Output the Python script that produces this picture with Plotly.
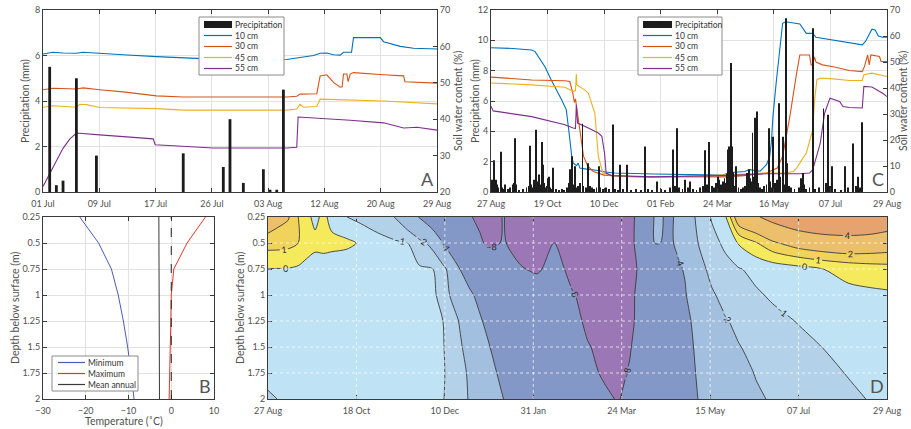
import numpy as np
import plotly.graph_objects as go

W, H = 911, 429
FONT = "Lato"
TICK = "#505050"
AXLINE = "#3a3a3a"
GRID = "#e2e2e2"

# ---------------- Panel A : 01 Jul - 29 Aug ----------------
a_tick_labels = ["01 Jul", "09 Jul", "17 Jul", "26 Jul", "03 Aug", "12 Aug", "20 Aug", "29 Aug"]
a_span = 59
a_precip_day = [1, 2, 3, 5, 8, 21, 27, 28, 30, 33, 34, 35, 36]
a_precip_mm = [5.5, 0.3, 0.5, 5.0, 1.6, 1.7, 1.1, 3.2, 0.4, 1.0, 0.1, 0.1, 4.5]

a10_day = [0, 1.5, 3, 5, 6, 8, 12, 17, 22, 25.5, 30, 34, 36.5, 38.5, 40.5, 41.5, 42.5, 43.5, 44.5, 45, 46.2, 46.5, 50.5, 51, 53.5, 55.5, 59]
a10_val = [57.9, 58.4, 58.2, 58.1, 58.4, 58.1, 57.7, 57.2, 56.8, 56.5, 56.5, 56.3, 56.4, 57.0, 57.5, 58.1, 58.2, 57.7, 57.6, 58.4, 58.4, 62.4, 62.4, 61.3, 60.0, 59.5, 59.3]
a30_day = [0, 1.5, 5, 6, 8.5, 12, 17, 21, 36.5, 38, 38.5, 41, 41.5, 42.5, 43.5, 44.5, 44.8, 45, 45.5, 45.7, 46, 46.5, 51, 54, 54.2, 59]
a30_val = [48.1, 48.5, 48.3, 48.6, 48.1, 47.5, 46.4, 46.1, 46.1, 46.3, 46.9, 47.0, 51.9, 52.2, 50.1, 48.8, 48.9, 52.4, 52.4, 50.3, 52.4, 52.8, 52.2, 51.9, 50.3, 49.9]
a45_day = [0, 1.5, 5, 5.5, 6.5, 8.5, 17, 21, 36.5, 38, 38.5, 39, 41, 41.5, 51, 59]
a45_val = [43.3, 43.7, 43.3, 44.1, 44.0, 43.2, 42.9, 42.5, 42.5, 42.8, 44.1, 43.3, 43.5, 45.5, 45.0, 44.2]
a55_day = [0, 1, 2, 3, 4, 5, 8.5, 16.5, 16.8, 21, 25.5, 36.5, 38, 38.2, 41, 43.5, 46, 51, 54, 56, 59]
a55_val = [21.5, 25, 28.5, 32, 34.5, 36.2, 35.7, 34.6, 33.0, 32.5, 32.1, 32.1, 32.3, 40.6, 40.3, 39.9, 39.7, 39.0, 37.6, 37.8, 37.0]

# ---------------- Panel C : 27 Aug - 29 Aug (next year) ----------------
c_tick_labels = ["27 Aug", "19 Oct", "10 Dec", "01 Feb", "24 Mar", "16 May", "07 Jul", "29 Aug"]
c_span = 368
c_precip_day = [0, 1, 2, 3, 4, 5, 6, 7, 9, 10, 12, 13, 16, 18, 20, 21, 22, 23, 26, 30, 33, 35, 36, 37, 39, 40,
                41, 42, 43, 44, 45, 46, 47, 48, 49, 50, 52, 53, 54, 55, 57, 58, 60, 63, 66, 68, 71, 72, 73, 74,
                75, 76, 77, 78, 79, 81, 83, 85, 86, 88, 90, 92, 94, 96, 98, 100, 101, 104, 107, 110, 113, 115,
                118, 120, 123, 126, 130, 135, 139, 143, 146, 150, 154, 158, 162, 166, 169, 171, 173, 175, 178,
                180, 183, 185, 188, 191, 194, 197, 199, 201, 203, 205, 207, 209, 211, 212, 214, 216, 217, 218,
                219, 220, 221, 222, 223, 224, 225, 226, 228, 230, 232, 234, 236, 238, 239, 240, 241, 242, 243,
                244, 245, 247, 248, 250, 252, 254, 256, 258, 259, 260, 262, 264, 266, 268, 269, 271, 272, 274,
                275, 277, 279, 282, 286, 288, 290, 291, 293, 296, 299, 301, 305, 309, 311, 313, 315, 317, 320,
                325, 329, 332, 336, 339, 341, 343, 345]
c_precip_mm = [0.7, 0.8, 0.7, 2.1, 0.6, 0.8, 0.5, 0.3, 2.65, 0.3, 0.2, 0.5, 0.2, 0.3, 0.5, 0.6, 3.55, 0.5, 0.1, 0.2, 0.3, 0.4, 3.05, 0.5, 0.3, 0.8,
               0.6, 4.1, 0.7, 0.4, 1.15, 0.5, 3.3, 1.8, 0.6, 0.3, 0.4, 0.9, 1.0, 0.3, 0.2, 1.6, 0.2, 0.1, 0.2, 0.1, 0.3, 0.6, 1.5, 0.7,
               2.35, 0.5, 0.4, 1.7, 0.3, 0.4, 0.6, 4.5, 0.4, 0.3, 1.9, 0.4, 0.3, 0.2, 0.3, 1.7, 0.3, 0.2, 0.3, 0.2, 4.45, 0.2,
               0.1, 1.8, 0.2, 1.8, 0.1, 0.2, 0.1, 3.0, 0.2, 0.1, 0.7, 0.2, 0.1, 0.3, 2.8, 0.4, 4.2, 0.3, 0.2,
               0.8, 0.3, 0.7, 0.2, 0.1, 0.3, 0.4, 2.75, 0.5, 3.3, 0.4, 0.3, 0.6, 1.0, 0.8, 0.5, 0.7, 0.9, 0.6,
               1.2, 2.8, 3.0, 0.9, 8.5, 3.0, 1.3, 0.4, 1.7, 0.3, 0.2, 0.3, 0.4, 1.25, 0.6, 1.5, 0.9, 0.7, 3.9,
               1.0, 4.9, 5.3, 0.6, 0.3, 0.2, 0.4, 0.5, 4.2, 0.7, 0.3, 3.65, 0.6, 0.8, 5.85, 1.0, 3.65, 0.5, 11.45,
               1.9, 0.4, 0.3, 0.2, 0.3, 0.9, 1.25, 0.5, 0.2, 0.3, 10.8, 0.2, 0.3, 5.5, 0.6, 5.1, 0.4, 1.7, 0.2,
               0.1, 1.7, 0.3, 3.2, 0.4, 1.0, 0.3, 4.6]

c10_day = [0, 20, 37.8, 41, 50, 56, 65.6, 70, 73.3, 75, 76.4, 79.5, 81, 82.6, 88.8, 99.7, 106, 115, 152, 183, 208, 215,
           223, 236, 240, 245, 250, 256, 259, 260.5, 262, 265, 268, 271, 274, 287, 293, 299, 302, 318, 333, 345,
           348, 354, 357, 360, 364, 368]
c10_val = [55.5, 55.2, 54.6, 54.0, 48.3, 43.1, 35.5, 31.6, 20.1, 13.7, 11.1, 10.2, 11.1, 9.2, 8.8, 8.3, 7.7, 7.3, 6.9, 6.6, 6.3, 6.5,
           7.5, 7.9, 8.6, 8.2, 8.0, 10.5, 13.7, 19.0, 29.0, 41.9, 54.7, 64.9, 65.5, 64.6, 61.0, 61.0, 59.5, 58.5, 57.5, 56.6,
           57.9, 62.6, 62.3, 60.0, 59.5, 59.5]
c30_day = [0, 37.8, 68.7, 73.3, 76, 77.5, 78.5, 80, 83, 86, 90, 95, 105, 130, 220, 235, 256, 266, 271, 277.7, 284, 287,
           296, 297.5, 299, 300.5, 302, 308, 318, 333, 345, 347, 350, 351.5, 353, 361, 362.5, 368]
c30_val = [44.2, 43.1, 42.8, 42.5, 38.0, 34.5, 35.8, 31.0, 22.0, 13.7, 9.9, 7.9, 6.5, 5.9, 5.8, 6.3, 7.3, 9.2, 13.7, 29.0, 45.7, 52.7,
           52.7, 48.9, 48.9, 52.0, 50.0, 48.9, 48.2, 46.7, 46.3, 48.2, 52.7, 48.9, 52.7, 52.1, 50.2, 50.2]
c45_day = [0, 37.8, 68.7, 76.4, 78.5, 79.3, 79.8, 87, 90.4, 96.5, 99.7, 104, 112, 150, 225, 256, 272.6, 281, 284, 293, 299,
           300.5, 302.8, 306, 318, 333, 345, 346.5, 354, 368]
c45_val = [41.9, 41.2, 40.3, 38.7, 38.9, 45.4, 41.2, 39.3, 38.0, 30.3, 13.7, 7.3, 6.3, 5.6, 6.7, 7.3, 7.3, 7.9, 9.2, 15.0, 23.9,
           34.2, 43.1, 43.8, 43.5, 42.9, 42.9, 45.1, 45.7, 44.4]
c55_day = [0, 2, 37.8, 68.7, 76.4, 78.5, 79.3, 80.5, 90.4, 99.7, 103, 105.5, 107, 112, 150, 225, 256, 287, 296, 299, 306,
           310, 315, 324, 327, 333, 345, 346.5, 354, 364, 368]
c55_val = [33.0, 31.2, 29.0, 25.9, 24.6, 24.4, 33.5, 26.5, 24.6, 22.7, 21.4, 15.0, 7.3, 6.3, 5.8, 6.4, 7.0, 7.0, 7.3, 8.6, 18.8,
           30.3, 36.1, 34.8, 32.9, 32.5, 32.3, 40.6, 40.4, 38.0, 36.7]

# ---------------- Panel B : temperature envelope ----------------
b_depth = [0.25, 0.5, 0.75, 1.0, 1.25, 1.5, 1.75, 2.0]
b_min = [-21.4, -17.0, -14.0, -12.4, -11.2, -10.2, -9.4, -8.7]
b_max = [8.0, 3.7, 0.6, 0.0, -0.1, -0.2, -0.35, -0.5]
b_mean = [-2.9, -2.88, -2.86, -2.84, -2.82, -2.8, -2.78, -2.75]

# ---------------- Panel D : ground temperature (deg C) ----------------
d_tick_labels = ["27 Aug", "18 Oct", "10 Dec", "31 Jan", "24 Mar", "15 May", "07 Jul", "29 Aug"]
d_day = [0, 12, 18, 23, 28, 33, 38, 47, 55, 65, 75, 83, 90, 98, 104, 108, 114, 120, 126, 132, 140, 150,
         160, 170, 180, 190, 200, 208, 215, 222, 230, 240, 248, 256, 264, 272, 280, 290, 300, 315, 330, 345, 358, 368]
d_depth = [0.25, 0.5, 0.75, 1.0, 1.25, 1.5, 1.75, 2.0]
t_025 = [3.0, 2.1, 1.0, 0.3, -0.3, 0.3, -0.4, -1.0, -1.3, -1.6, -2.0, -3.0, -4.1, -5.5, -6.5, -7.0, -7.5, -7.9, -8.3, -8.8, -7.9, -9.5,
         -10.5, -11.0, -11.5, -11.5, -11.0, -10.0, -8.7, -7.0, -3.8, -4.2, -2.8, -1.7, -0.9, -0.1, 3.0, 3.8, 4.6, 5.5, 6.0, 6.0, 6.0, 5.5]
t_050 = [1.4, 1.3, 1.0, 0.6, 0.3, 0.4, 0.3, 0.2, -0.1, -0.6, -0.85, -1.0, -1.6, -2.4, -4.0, -5.0, -6.0, -7.0, -7.8, -8.3, -7.9, -8.5,
         -9.0, -7.9, -9.5, -10.5, -10.0, -9.3, -8.5, -7.2, -3.95, -4.1, -3.4, -1.95, -1.3, -0.8, 0.1, 0.9, 1.8, 2.6, 3.0, 3.2, 3.0, 2.8]
t_075 = [-0.03, -0.05, -0.15, -0.4, -0.55, -0.6, -0.6, -0.65, -0.7, -0.75, -0.8, -0.85, -0.9, -1.0, -1.6, -2.4, -4.0, -5.0, -5.8, -6.5, -7.3, -7.9,
         -8.2, -7.5, -8.3, -9.0, -9.3, -9.3, -8.8, -7.5, -5.5, -4.4, -3.9, -2.5, -1.6, -1.3, -1.05, -0.8, -0.6, -0.35, 0.0, 0.3, 0.5, 0.6]
t_100 = [-0.2, -0.25, -0.3, -0.35, -0.4, -0.45, -0.5, -0.55, -0.6, -0.7, -0.75, -0.8, -0.85, -0.95, -1.1, -2.0, -2.8, -3.7, -4.5, -5.2, -6.0, -6.6,
         -7.1, -7.5, -7.85, -8.4, -8.6, -8.6, -8.3, -7.6, -6.2, -5.0, -4.1, -3.0, -2.15, -1.6, -1.4, -1.1, -0.9, -0.6, -0.4, -0.25, -0.2, -0.15]
t_125 = [-0.4, -0.42, -0.45, -0.48, -0.5, -0.52, -0.55, -0.6, -0.65, -0.7, -0.75, -0.8, -0.85, -0.92, -1.0, -1.3, -2.1, -3.0, -3.8, -4.6, -5.5, -6.3,
         -6.9, -7.4, -7.7, -8.15, -8.4, -8.4, -8.2, -7.7, -6.5, -5.2, -4.3, -3.6, -2.8, -2.1, -1.7, -1.4, -1.2, -0.97, -0.75, -0.55, -0.45, -0.4]
t_150 = [-0.55, -0.57, -0.58, -0.6, -0.62, -0.64, -0.66, -0.7, -0.73, -0.77, -0.8, -0.84, -0.88, -0.93, -0.98, -1.1, -1.8, -2.6, -3.3, -4.0, -4.9, -5.9,
         -6.6, -7.2, -7.6, -7.95, -8.2, -8.25, -8.05, -7.7, -6.8, -5.5, -4.5, -3.7, -3.0, -2.5, -2.05, -1.7, -1.45, -1.2, -0.99, -0.8, -0.7, -0.6]
t_175 = [-0.8, -0.78, -0.78, -0.79, -0.8, -0.8, -0.81, -0.82, -0.83, -0.85, -0.87, -0.89, -0.91, -0.94, -0.98, -1.05, -1.6, -2.2, -2.9, -3.6, -4.4, -5.5,
         -6.4, -7.0, -7.5, -7.8, -8.1, -8.15, -7.95, -7.6, -6.9, -5.8, -4.7, -3.8, -3.2, -2.7, -2.35, -1.95, -1.7, -1.4, -1.15, -0.97, -0.85, -0.8]
t_200 = [-1.1, -0.88, -0.88, -0.88, -0.89, -0.89, -0.9, -0.9, -0.91, -0.92, -0.93, -0.94, -0.95, -0.97, -0.99, -1.05, -1.6, -2.1, -2.7, -3.3, -4.0, -5.1,
         -6.1, -6.8, -7.3, -7.6, -7.85, -8.05, -7.8, -7.5, -7.0, -6.0, -4.9, -3.95, -3.3, -2.85, -2.5, -2.15, -1.9, -1.6, -1.35, -1.12, -0.97, -0.92]
d_levels = [-8, -4, -2, -1, 0, 1, 2, 4]
d_fill_colors = ["#8398c6", "#a3bfdf", "#b3d2ea", "#bfe3f4", "#f5e95c", "#f1d35c", "#ecbf6c", "#e4a36f"]
d_below_color = "#9b77b5"

# ---------------- helpers ----------------
def ax(**kw):
    d = dict(showline=True, linecolor=AXLINE, linewidth=1, ticks="inside", ticklen=4, tickcolor=AXLINE,
             tickfont=dict(family=FONT, size=9, color=TICK), showgrid=True, gridcolor=GRID, gridwidth=1,
             zeroline=False, automargin=False)
    d.update(kw)
    return d

fig = go.Figure()

# Panel A: lines on the soil-water axis (y), bars on overlay precip axis (y2) so bars sit on top
swc_colors = ["#0072bd", "#d95319", "#edb120", "#7e2f8e"]
for dd, vv, col in zip([a10_day, a30_day, a45_day, a55_day], [a10_val, a30_val, a45_val, a55_val], swc_colors):
    fig.add_trace(go.Scatter(x=dd, y=vv, mode="lines", line=dict(color=col, width=1.1),
                             xaxis="x", yaxis="y", showlegend=False, hoverinfo="skip"))
fig.add_trace(go.Bar(x=a_precip_day, y=a_precip_mm, width=0.42, marker=dict(color="#1c1c1c", line=dict(width=0)),
                     xaxis="x", yaxis="y2", showlegend=False, hoverinfo="skip"))

# Panel C
for dd, vv, col in zip([c10_day, c30_day, c45_day, c55_day], [c10_val, c30_val, c45_val, c55_val], swc_colors):
    fig.add_trace(go.Scatter(x=dd, y=vv, mode="lines", line=dict(color=col, width=1.1),
                             xaxis="x2", yaxis="y3", showlegend=False, hoverinfo="skip"))
fig.add_trace(go.Bar(x=c_precip_day, y=c_precip_mm, width=0.85, marker=dict(color="#1c1c1c", line=dict(width=0)),
                     xaxis="x2", yaxis="y4", showlegend=False, hoverinfo="skip"))

# Panel B
fig.add_trace(go.Scatter(x=b_min, y=b_depth, mode="lines", line=dict(color="#4b5cb6", width=1),
                         xaxis="x3", yaxis="y5", showlegend=False, hoverinfo="skip"))
fig.add_trace(go.Scatter(x=b_max, y=b_depth, mode="lines", line=dict(color="#e8352b", width=1),
                         xaxis="x3", yaxis="y5", showlegend=False, hoverinfo="skip"))
fig.add_trace(go.Scatter(x=b_mean, y=b_depth, mode="lines", line=dict(color="#3a3a3a", width=1),
                         xaxis="x3", yaxis="y5", showlegend=False, hoverinfo="skip"))
fig.add_shape(type="line", xref="x3", yref="y5 domain", x0=0, x1=0, y0=0, y1=1,
              line=dict(color="#222", width=1, dash="dash"))

# Panel D
d_z = [t_025, t_050, t_075, t_100, t_125, t_150, t_175, t_200]
fig.add_trace(go.Heatmap(x=d_day, y=d_depth, z=d_z, colorscale=[[0, d_below_color], [1, d_below_color]],
                         showscale=False, xaxis="x4", yaxis="y6", hoverinfo="skip"))
for lev, col in zip(d_levels, d_fill_colors):
    fig.add_trace(go.Contour(x=d_day, y=d_depth, z=d_z, xaxis="x4", yaxis="y6", showscale=False,
                             contours=dict(type="constraint", operation="<", value=lev, showlabels=True,
                                           labelfont=dict(family=FONT, size=9, color="#2a2a2a")),
                             fillcolor=col, line=dict(color="#3c3c3c", width=0.9, smoothing=0.8),
                             hoverinfo="skip", showlegend=False))

# grid lines over the contour (dotted white)
d_ticks = np.linspace(0, 368, 8)
for xv in d_ticks[1:-1]:
    fig.add_shape(type="line", xref="x4", yref="y6 domain", x0=xv, x1=xv, y0=0, y1=1, layer="above",
                  line=dict(color="rgba(255,255,255,0.7)", width=1, dash="dot"))
for yv in d_depth[1:-1]:
    fig.add_shape(type="line", xref="x4 domain", yref="y6", x0=0, x1=1, y0=yv, y1=yv, layer="above",
                  line=dict(color="rgba(255,255,255,0.7)", width=1, dash="dot"))

xA = [43 / W, 437 / W]
xC = [491 / W, 887 / W]
xB = [43 / W, 214 / W]
xD = [268 / W, 887 / W]
yTop = [1 - 192 / H, 1 - 10 / H]
yBot = [1 - 399 / H, 1 - 217 / H]

depth_ticktext = ["0.25", "0.5", "0.75", "1", "1.25", "1.5", "1.75", "2"]

fig.update_layout(
    width=W, height=H, autosize=False, margin=dict(l=0, r=0, t=0, b=0, autoexpand=False),
    paper_bgcolor="white", plot_bgcolor="white", showlegend=False, barmode="overlay",
    font=dict(family=FONT, size=9, color=TICK),
    xaxis=ax(domain=xA, anchor="y", range=[0, a_span], tickvals=list(np.linspace(0, a_span, 8)),
             ticktext=a_tick_labels, mirror="ticks", ticklabelstandoff=3),
    yaxis=ax(domain=yTop, anchor="x", side="right", range=[20, 70], dtick=10, showgrid=False),
    yaxis2=ax(overlaying="y", anchor="x", side="left", range=[0, 8], dtick=2),
    xaxis2=ax(domain=xC, anchor="y3", range=[0, c_span], tickvals=list(np.linspace(0, c_span, 8)),
              ticktext=c_tick_labels, mirror="ticks", ticklabelstandoff=3),
    yaxis3=ax(domain=yTop, anchor="x2", side="right", range=[0, 70], dtick=10, showgrid=False),
    yaxis4=ax(overlaying="y3", anchor="x2", side="left", range=[0, 12], dtick=2),
    xaxis3=ax(domain=xB, anchor="y5", range=[-30, 10], dtick=10, mirror="ticks", ticklabelstandoff=3),
    yaxis5=ax(domain=yBot, anchor="x3", range=[2, 0.25], tickvals=d_depth, ticktext=depth_ticktext, mirror="ticks"),
    xaxis4=ax(domain=xD, anchor="y6", range=[0, c_span], tickvals=list(d_ticks), ticktext=d_tick_labels,
              mirror="ticks", showgrid=False, ticklabelstandoff=3),
    yaxis6=ax(domain=yBot, anchor="x4", range=[2, 0.25], tickvals=d_depth, ticktext=depth_ticktext,
              mirror="ticks", showgrid=False),
)

# axis titles placed as text next to their axes
TITLE_FONT = dict(family=FONT, size=10.5, color=TICK)
axis_titles = [
    ("Precipitation (mm)", 25, 101, -90),
    ("Soil water content (%)", 458, 101, -90),
    ("Precipitation (mm)", 475, 101, -90),
    ("Soil water content (%)", 903, 101, -90),
    ("Depth below surface (m)", 15, 308, -90),
    ("Depth below surface (m)", 240, 308, -90),
    ("Temperature (˚C)", 124, 421, 0),
]
for txt, px, py, ang in axis_titles:
    fig.add_annotation(text=txt, xref="paper", yref="paper", x=px / W, y=1 - py / H, xanchor="center",
                       yanchor="middle", textangle=ang, showarrow=False, font=TITLE_FONT)

# panel letters
for letter, xr, yr in [("A", "x", "y"), ("C", "x2", "y3"), ("B", "x3", "y5"), ("D", "x4", "y6")]:
    fig.add_annotation(text=letter, xref=f"{xr} domain", yref=f"{yr} domain", x=1, y=0,
                       xanchor="right", yanchor="bottom", xshift=-1, yshift=0, showarrow=False,
                       font=dict(family=FONT, size=18, color="#555"))

# legends (drawn as boxed keys)
def add_key(box, sx0, sx1, tx, rows):
    bx0, by0, bx1, by1 = box
    fig.add_shape(type="rect", xref="paper", yref="paper", x0=bx0 / W, x1=bx1 / W, y0=1 - by1 / H, y1=1 - by0 / H,
                  line=dict(color="#8a8a8a", width=1), fillcolor="white", layer="above")
    for kind, col, label, yc in rows:
        if kind == "bar":
            fig.add_shape(type="rect", xref="paper", yref="paper", x0=sx0 / W, x1=sx1 / W,
                          y0=1 - (yc + 3.5) / H, y1=1 - (yc - 3.5) / H, line=dict(width=0),
                          fillcolor=col, layer="above")
        else:
            fig.add_shape(type="line", xref="paper", yref="paper", x0=sx0 / W, x1=sx1 / W,
                          y0=1 - yc / H, y1=1 - yc / H, line=dict(color=col, width=1.2), layer="above")
        fig.add_annotation(text=label, xref="paper", yref="paper", x=tx / W, y=1 - yc / H, xanchor="left",
                           yanchor="middle", showarrow=False, borderpad=0,
                           font=dict(family=FONT, size=8.5, color="#333"))

swc_labels = ["10 cm", "30 cm", "45 cm", "55 cm"]
row_y = [24.5, 35.5, 46.5, 57.5, 68.5]
rowsA = [("bar", "#1c1c1c", "Precipitation", row_y[0])] + [("line", c, l, y) for c, l, y in zip(swc_colors, swc_labels, row_y[1:])]
add_key((199, 17, 284, 75), 204, 232, 234, rowsA)
add_key((638, 17, 722, 75), 643, 672, 674, rowsA)
rowsB = [("line", "#4b5cb6", "Minimum", 362.5), ("line", "#e8352b", "Maximum", 373.5), ("line", "#3a3a3a", "Mean annual", 384.5)]
add_key((52, 356, 138, 391), 58, 85, 87, rowsB)

# the page body must not add its default 8px margin around the 911x429 figure
fig.write_html("out.html", config={"displayModeBar": False},
               post_script="document.body.style.margin='0';document.body.style.overflow='hidden';")
